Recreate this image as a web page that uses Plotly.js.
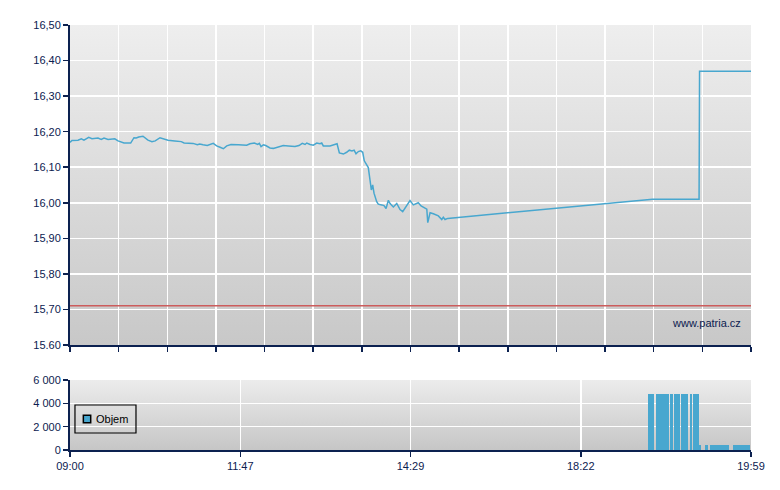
<!DOCTYPE html>
<html>
<head>
<meta charset="utf-8">
<script src="https://cdn.plot.ly/plotly-3.0.1.min.js"></script>
<style>
html,body{margin:0;padding:0;background:#fff;}
#chart{width:780px;height:490px;}
</style>
</head>
<body>
<div id="chart"></div>
<script>
// ---- data (x = trade slot index on the session axis, 0..560) ----
const sessionSlots = 560;
const timeLabels = ['09:00', '11:47', '14:29', '18:22', '19:59'];

const priceSlot = [0, 1.6, 6.6, 9.3, 11.5, 15.4, 18.1, 23.0, 25.7, 28.0, 31.3, 36.8, 39.5, 44.4, 49.9,
  52.6, 54.5, 56.5, 60.0, 64.1, 67.4, 70.1, 74.0, 77.9, 80.6, 86.1, 91.5, 93.8, 97.0, 101.2,
  104.7, 106.7, 109.4, 112.9, 117.8, 120.6, 123.4, 126.1, 128.9, 132.4, 138.4, 145.3, 148.0,
  151.6, 154.4, 155.7, 157.1, 159.0, 160.9, 164.5, 167.2, 171.3, 175.4, 179.5, 185.0, 188.3,
  191.0, 193.3, 194.7, 197.4, 200.1, 202.9, 205.6, 207.0, 208.3, 213.8, 217.9, 219.6, 221.5,
  224.8, 227.5, 229.7, 231.9, 233.6, 235.2, 237.1, 239.1, 240.7, 242.0, 244.0, 245.3, 246.7,
  247.8, 248.9, 250.0, 252.2, 253.5, 256.3, 258.2, 259.9, 261.8, 263.2, 265.9, 268.7, 271.4,
  273.6, 275.5, 279.0, 279.6, 282.3, 286.4, 288.7, 291.4, 293.4, 294.2, 296.1, 298.8, 302.9,
  305.7, 307.0, 308.4, 310.6, 479.0, 517.3, 517.7, 560];
const price = [16.170, 16.175, 16.176, 16.180, 16.176, 16.184, 16.180, 16.182, 16.178, 16.182, 16.178, 16.180, 16.174, 16.168, 16.168,
  16.183, 16.182, 16.185, 16.187, 16.176, 16.172, 16.174, 16.183, 16.180, 16.176, 16.174, 16.172, 16.168, 16.167, 16.167,
  16.163, 16.165, 16.163, 16.161, 16.167, 16.160, 16.156, 16.152, 16.160, 16.164, 16.163, 16.162, 16.166,
  16.168, 16.164, 16.167, 16.158, 16.163, 16.161, 16.154, 16.153, 16.156, 16.161, 16.160, 16.158, 16.161,
  16.167, 16.164, 16.168, 16.164, 16.162, 16.168, 16.166, 16.168, 16.160, 16.160, 16.164, 16.166, 16.140,
  16.137, 16.142, 16.148, 16.146, 16.148, 16.138, 16.144, 16.146, 16.142, 16.118, 16.106, 16.099, 16.064,
  16.036, 16.050, 16.027, 16.003, 15.996, 15.994, 15.992, 15.984, 16.007, 15.998, 15.988, 15.998, 15.981,
  15.975, 15.986, 16.003, 16.006, 15.994, 16.000, 15.991, 15.987, 15.982, 15.944, 15.972, 15.969, 15.963,
  15.953, 15.959, 15.953, 15.956, 16.010, 16.010, 16.370, 16.370];

const prevClose = 15.71;

const volSlot = [476, 477, 478, 479, 480,
  482, 483, 484, 485, 486, 487, 488, 489, 490, 491, 492,
  494, 495,
  497, 498, 499, 500, 501,
  503, 504, 505, 506, 507, 508,
  510, 511,
  513, 514, 515, 516, 517,
  518,
  523, 524,
  527, 528, 529, 530, 531, 532, 533, 534, 535, 536, 537, 538, 539, 540, 541,
  546, 547, 548, 549, 550, 551, 552, 553, 554, 555, 556, 557, 558, 559];
const volume = [4800, 4800, 4800, 4800, 4800,
  4800, 4800, 4800, 4800, 4800, 4800, 4800, 4800, 4800, 4800, 4800,
  4800, 4800,
  4800, 4800, 4800, 4800, 4800,
  4800, 4800, 4800, 4800, 4800, 4800,
  4800, 4800,
  4800, 4800, 4800, 4800, 4800,
  450,
  450, 450,
  450, 450, 450, 450, 450, 450, 450, 450, 450, 450, 450, 450, 450, 450, 450,
  450, 450, 450, 450, 450, 450, 450, 450, 450, 450, 450, 450, 450, 450];

const priceTickVals = [15.6, 15.7, 15.8, 15.9, 16.0, 16.1, 16.2, 16.3, 16.4, 16.5];
const priceTickText = ['15.60', '15,70', '15,80', '15,90', '16,00', '16,10', '16,20', '16,30', '16,40', '16,50'];
const volTickVals = [0, 2000, 4000, 6000];
const volTickText = ['0', '2 000', '4 000', '6 000'];
const volLegendName = 'Objem';
const watermark = 'www.patria.cz';

// ---- styling ----
const navy = '#0c2150';
const blue = '#48a7cf';
const font = 'Arial, "Liberation Sans", sans-serif';
const upperDomain = [0.2471, 1];
const lowerDomain = [0, 0.1647];

function gradientImage(top, bottom, y0, y1) {
  const svg = "<svg xmlns='http://www.w3.org/2000/svg' width='10' height='100' preserveAspectRatio='none'>" +
    "<defs><linearGradient id='g' x1='0' y1='0' x2='0' y2='1'>" +
    "<stop offset='0' stop-color='" + top + "'/><stop offset='1' stop-color='" + bottom + "'/>" +
    "</linearGradient></defs><rect x='0' y='0' width='10' height='100' fill='url(#g)'/></svg>";
  return {
    source: 'data:image/svg+xml;charset=utf-8,' + encodeURIComponent(svg),
    xref: 'paper', yref: 'paper', x: 0, y: y1, sizex: 1, sizey: y1 - y0,
    xanchor: 'left', yanchor: 'top', sizing: 'stretch', layer: 'below'
  };
}

const traces = [
  {
    type: 'scatter', mode: 'lines', x: priceSlot, y: price,
    xaxis: 'x', yaxis: 'y',
    line: {color: blue, width: 1.5}, showlegend: false, hoverinfo: 'y'
  },
  {
    type: 'bar', x: volSlot, y: volume, xaxis: 'x2', yaxis: 'y2', name: volLegendName,
    marker: {color: blue, line: {width: 0}}, showlegend: false
  }
];

const tickLabelVals = timeLabels.map((_, i) => i * sessionSlots / (timeLabels.length - 1));

const commonX = {
  range: [0, sessionSlots], showline: true, linecolor: navy, linewidth: 2,
  ticks: 'outside', ticklen: 5, tickwidth: 1.5, tickcolor: navy,
  gridcolor: '#ffffff', gridwidth: 1.5, zeroline: false, fixedrange: true
};

// legend box (drawn in the lower panel's corner, paper coordinates)
const legBox = {x0: 0.0073, x1: 0.0969, y0: 0.040, y1: 0.1059};
const legSwatch = {x0: 0.0196, x1: 0.0304, y0: 0.0642, y1: 0.0816};

const layout = {
  width: 780, height: 490,
  margin: {l: 70, r: 29, t: 25, b: 40, pad: 0},
  paper_bgcolor: '#ffffff', plot_bgcolor: 'rgba(0,0,0,0)',
  font: {family: font, size: 11, color: navy},
  bargap: 0,
  showlegend: false,
  xaxis: Object.assign({}, commonX, {
    anchor: 'y', domain: [0, 1], tickmode: 'linear', tick0: 0, dtick: sessionSlots / 14,
    showticklabels: false
  }),
  yaxis: {
    anchor: 'x', domain: upperDomain, range: [15.6, 16.5],
    tickmode: 'array', tickvals: priceTickVals, ticktext: priceTickText,
    showline: true, linecolor: navy, linewidth: 2,
    ticks: 'outside', ticklen: 5, tickwidth: 1.5, tickcolor: navy,
    gridcolor: '#ffffff', gridwidth: 1.5, zeroline: false, fixedrange: true,
    tickfont: {family: font, size: 11, color: navy}
  },
  xaxis2: Object.assign({}, commonX, {
    anchor: 'y2', domain: [0, 1], matches: 'x',
    tickmode: 'array', tickvals: tickLabelVals, ticktext: timeLabels,
    tickfont: {family: font, size: 11, color: navy}
  }),
  yaxis2: {
    anchor: 'x2', domain: lowerDomain, range: [0, 6000],
    tickmode: 'array', tickvals: volTickVals, ticktext: volTickText,
    showline: true, linecolor: navy, linewidth: 2,
    ticks: 'outside', ticklen: 5, tickwidth: 1.5, tickcolor: navy,
    gridcolor: '#ffffff', gridwidth: 1.5, zeroline: false, fixedrange: true,
    tickfont: {family: font, size: 11, color: navy}
  },
  images: [
    gradientImage('#eeeeee', '#c8c8c8', upperDomain[0], upperDomain[1]),
    gradientImage('#ececec', '#c6c6c6', lowerDomain[0], lowerDomain[1])
  ],
  shapes: [
    {
      type: 'line', xref: 'x', yref: 'y', x0: 0, x1: sessionSlots, y0: prevClose, y1: prevClose,
      line: {color: '#cc5c5c', width: 1.5}, layer: 'above'
    },
    {
      type: 'rect', xref: 'paper', yref: 'paper',
      x0: legBox.x0, x1: legBox.x1, y0: legBox.y0, y1: legBox.y1,
      line: {color: '#000000', width: 1.2}, fillcolor: 'rgba(0,0,0,0)', layer: 'above'
    },
    {
      type: 'rect', xref: 'paper', yref: 'paper',
      x0: legSwatch.x0, x1: legSwatch.x1, y0: legSwatch.y0, y1: legSwatch.y1,
      line: {color: '#000000', width: 1.5}, fillcolor: blue, layer: 'above'
    }
  ],
  annotations: [
    {
      text: watermark, xref: 'paper', yref: 'paper', x: 0.988, y: 0.2988,
      xanchor: 'right', yanchor: 'middle', showarrow: false,
      font: {family: font, size: 11, color: navy}
    },
    {
      text: volLegendName, xref: 'paper', yref: 'paper', x: 0.0355, y: 0.0729,
      xanchor: 'left', yanchor: 'middle', showarrow: false,
      font: {family: font, size: 11, color: '#000000'}
    }
  ]
};

Plotly.newPlot('chart', traces, layout, {displayModeBar: false, staticPlot: true});
</script>
</body>
</html>
